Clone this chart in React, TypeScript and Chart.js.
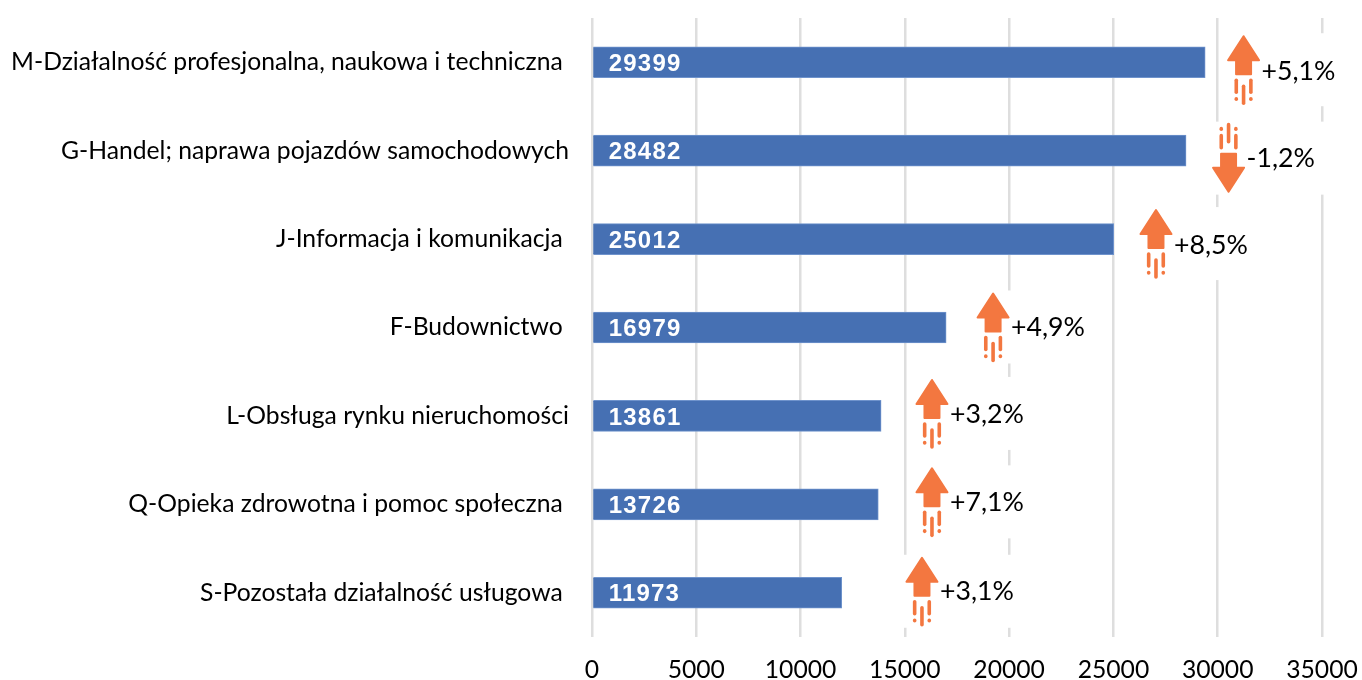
import React, { useEffect, useRef } from "react";
import { Chart, registerables } from "chart.js";

Chart.register(...registerables);

const categories = [
  "M-Działalność profesjonalna, naukowa i techniczna ",
  "G-Handel; naprawa pojazdów samochodowych",
  "J-Informacja i komunikacja ",
  "F-Budownictwo ",
  "L-Obsługa rynku nieruchomości",
  "Q-Opieka zdrowotna i pomoc społeczna ",
  "S-Pozostała działalność usługowa ",
];
const employment = [29399, 28482, 25012, 16979, 13861, 13726, 11973];
const changeLabels = ["+5,1%", "-1,2%", "+8,5%", "+4,9%", "+3,2%", "+7,1%", "+3,1%"];
const arrowAxisValues = [31240, 30520, 27040, 19230, 16300, 16300, 15820];
const arrowShiftY = [0, 0, -3, -8, -10, -10, -9];
const labelShiftY = [9, 8, 6, 0, -2, -2, -1];

const ORANGE = "#F37740";
const LATO = "Lato, Carlito, sans-serif";

function drawArrow(ctx: CanvasRenderingContext2D, x: number, y: number, dir: number) {
  // y is the category centre (with shift); dir 1 = up, -1 = down
  const Y = (o: number) => y + dir * o;
  ctx.save();
  ctx.fillStyle = ORANGE;
  ctx.strokeStyle = ORANGE;
  ctx.lineJoin = "round";
  ctx.lineWidth = 2;
  ctx.beginPath();
  ctx.moveTo(x, Y(-26));
  ctx.lineTo(x + 15.5, Y(-2));
  ctx.lineTo(x + 7.5, Y(-2));
  ctx.lineTo(x + 7.5, Y(12));
  ctx.lineTo(x - 7.5, Y(12));
  ctx.lineTo(x - 7.5, Y(-2));
  ctx.lineTo(x - 15.5, Y(-2));
  ctx.closePath();
  ctx.fill();
  ctx.stroke();
  ctx.lineCap = "round";
  ctx.lineWidth = 3.6;
  const dash = (dx: number, a: number, b: number) => {
    ctx.beginPath();
    ctx.moveTo(x + dx, Y(a));
    ctx.lineTo(x + dx, Y(b));
    ctx.stroke();
  };
  dash(-7.3, 18, 30);
  dash(7.3, 18, 30);
  dash(0, 24, 41);
  dash(-7.3, 36.5, 37);
  dash(7.3, 36.5, 37);
  ctx.restore();
}

const annotationPlugin = {
  id: "annotations",
  beforeDatasetsDraw(chart: any) {
    const { ctx, scales } = chart;
    ctx.save();
    ctx.fillStyle = "#fff";
    categories.forEach((_, i) => {
      const x = scales.x.getPixelForValue(arrowAxisValues[i]);
      const y = scales.y.getPixelForValue(i);
      const shift = arrowShiftY[i];
      ctx.fillRect(x - 18, y + shift - 29, 115, 73);
    });
    ctx.restore();
  },
  afterDatasetsDraw(chart: any) {
    const { ctx, scales } = chart;
    const meta = chart.getDatasetMeta(0);
    categories.forEach((_, i) => {
      const x = scales.x.getPixelForValue(arrowAxisValues[i]);
      const y = scales.y.getPixelForValue(i);
      const up = !changeLabels[i].startsWith("-");
      drawArrow(ctx, x, up ? y + arrowShiftY[i] : y + 15, up ? 1 : -1);
      ctx.save();
      ctx.fillStyle = "#000";
      ctx.font = `26.7px ${LATO}`;
      ctx.textAlign = "left";
      ctx.textBaseline = "middle";
      ctx.fillText(changeLabels[i], x + 18, y + labelShiftY[i]);
      ctx.restore();

      ctx.save();
      ctx.fillStyle = "#fff";
      ctx.font = "bold 24px 'Liberation Sans', Arial, sans-serif";
      (ctx as any).letterSpacing = "1.2px";
      ctx.textAlign = "left";
      ctx.textBaseline = "middle";
      ctx.fillText(String(employment[i]), meta.data[i].base + 15.5, y + 2);
      ctx.restore();
    });
  },
};

export default function App() {
  const ref = useRef<HTMLCanvasElement>(null);
  useEffect(() => {
    const chart = new Chart(ref.current!, {
      type: "bar",
      data: {
        labels: categories,
        datasets: [
          {
            data: employment,
            backgroundColor: "#4670B3",
            borderColor: "#6F93CC",
            borderWidth: 1,
            barThickness: 31,
          },
        ],
      },
      options: {
        indexAxis: "y",
        animation: false,
        responsive: false,
        layout: { padding: { top: 18, right: 40, left: 0, bottom: 0 } },
        plugins: { legend: { display: false }, tooltip: { enabled: false } },
        scales: {
          x: {
            min: 0,
            max: 35000,
            afterFit: (s: any) => { s.height = 43; s.paddingLeft = 0; s.paddingRight = 0; },
            border: { display: false },
            grid: { color: "#DEDEDE", lineWidth: 2.5, drawTicks: false },
            ticks: {
              stepSize: 5000,
              maxRotation: 0,
              padding: 18,
              color: "#000",
              font: { family: LATO, size: 24.7 },
              callback: (v: any) => String(v),
            },
          },
          y: {
            afterFit: (s: any) => { s.width = 592; s.paddingTop = 0; s.paddingBottom = 0; },
            border: { display: false },
            grid: { display: false },
            ticks: {
              autoSkip: false,
              padding: 15,
              color: "#000",
              font: { family: LATO, size: 24.7 },
            },
          },
        },
      },
      plugins: [annotationPlugin],
    } as any);
    return () => chart.destroy();
  }, []);
  return (
    <canvas
      ref={ref}
      width={1362}
      height={680}
      style={{ position: "fixed", left: 0, top: 0, width: 1362, height: 680, display: "block" }}
    />
  );
}
